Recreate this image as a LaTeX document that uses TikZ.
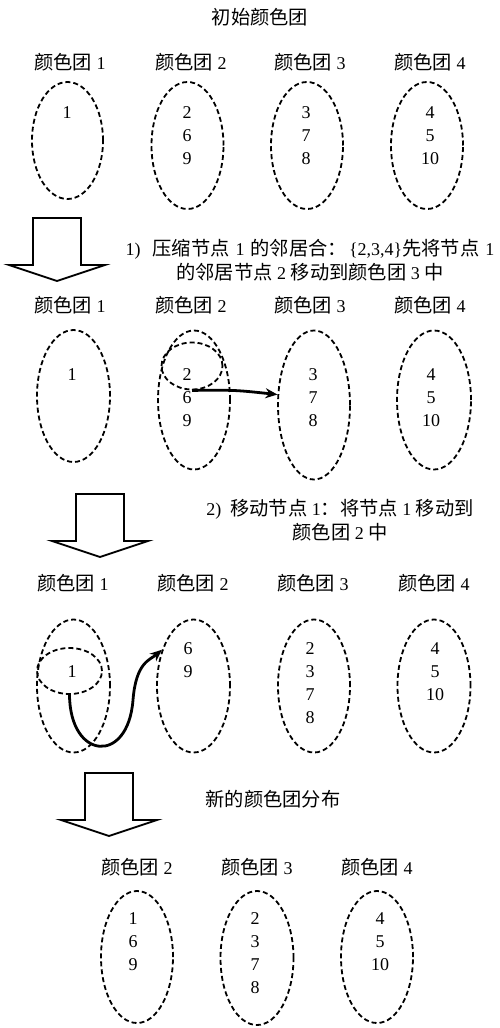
\documentclass[tikz,border=0pt]{standalone}
\usepackage{fontspec}
\setmainfont{Liberation Serif}
\newfontfamily\cjk{Noto Sans CJK SC}[Scale=1.07]
\usetikzlibrary{shapes.geometric,arrows.meta}
\tikzset{
  barrow/.pic={\draw[line width=1.8pt, miter limit=10] (-24,-63) -- (24,-63) -- (24,-16) -- (48,-16) -- (0,0) -- (-48,-16) -- (-24,-16) -- cycle;},
  every node/.style={font=\fontsize{18}{23}\selectfont, inner sep=0pt},
  clu/.style={draw, ellipse, dash pattern=on 5pt off 3pt, line width=1.8pt, minimum width=72pt},
  subclu/.style={draw, ellipse, dash pattern=on 5pt off 3pt, line width=1.8pt},
  num/.style={align=center},
  txt/.style={align=center, font=\fontsize{18}{24}\selectfont},
  conn/.style={line width=2.8pt, -{Stealth[length=12pt,width=10pt]}}
}
\begin{document}
\begin{tikzpicture}[x=1pt,y=-1pt]
\fill[white] (0,0) rectangle (500,1028);
\useasboundingbox (0,0) rectangle (500,1028);

% Row 1
\node (t0) at (260,17) {\cjk 初始颜色团};
\node (l11) at (70,62) {{\cjk 颜色团} 1};
\node (l12) at (191,62) {{\cjk 颜色团} 2};
\node (l13) at (310,62) {{\cjk 颜色团} 3};
\node (l14) at (430,62) {{\cjk 颜色团} 4};
\node[clu, minimum width=71pt, minimum height=117pt] (c11) at (67.5,140.5) {};
\node[clu, minimum height=127pt] (c12) at (187.5,145.5) {};
\node[clu, minimum height=127pt] (c13) at (307,145.5) {};
\node[clu, minimum height=127pt] (c14) at (427,145.5) {};
\node[num] (n11) at (67,113) {1};
\node[num] (n12) at (187,136) {2\\6\\9};
\node[num] (n13) at (306,136) {3\\7\\8};
\node[num] (n14) at (430,136) {4\\5\\10};

% Step 1
\pic at (57,281) {barrow};
\node[txt] (t1) at (310,260) {1)\hspace{12pt}{\cjk 压缩节点}\hspace{6pt}1\hspace{6pt}{\cjk 的邻居合：}\hspace{2pt}\{2,3,4\}{\cjk 先将节点}\hspace{6pt}1\\{\cjk 的邻居节点} 2 {\cjk 移动到颜色团} 3 {\cjk 中}};

% Row 2
\node (l21) at (70,305) {{\cjk 颜色团} 1};
\node (l22) at (191,305) {{\cjk 颜色团} 2};
\node (l23) at (310,305) {{\cjk 颜色团} 3};
\node (l24) at (430,305) {{\cjk 颜色团} 4};
\node[clu, minimum width=73pt, minimum height=132pt] (c21) at (73.5,396) {};
\node[clu, minimum height=139pt] (c22) at (194,400) {};
\node[clu, minimum height=149pt] (c23) at (314,405) {};
\node[clu, minimum width=74pt, minimum height=139pt] (c24) at (434,400) {};
\node[subclu, minimum width=61pt, minimum height=47pt] (s22) at (192,366) {};
\node[num] (n21) at (72,375) {1};
\node[num] (n22) at (187,398) {2\\6\\9};
\node[num] (n23) at (313,398) {3\\7\\8};
\node[num] (n24) at (431,398) {4\\5\\10};
\draw[conn] (s22.south) .. controls (235,390) .. (c23.164);

% Step 2
\pic at (100,557) {barrow};
\node[txt] (t2) at (340,520) {2)\hspace{9pt}{\cjk 移动节点} 1{\cjk ：将节点} 1 {\cjk 移动到}\\{\cjk 颜色团} 2 {\cjk 中}};

% Row 3
\node (l31) at (73,583) {{\cjk 颜色团} 1};
\node (l32) at (193,583) {{\cjk 颜色团} 2};
\node (l33) at (313,583) {{\cjk 颜色团} 3};
\node (l34) at (434,583) {{\cjk 颜色团} 4};
\node[clu, minimum width=73pt, minimum height=133pt] (c31) at (73.5,686) {};
\node[clu, minimum width=73pt, minimum height=133pt] (c32) at (193.5,686) {};
\node[clu, minimum width=72pt, minimum height=133pt] (c33) at (314,686) {};
\node[clu, minimum width=73pt, minimum height=133pt] (c34) at (434,686) {};
\node[subclu, minimum width=65pt, minimum height=46pt] (s31) at (69.5,671) {};
\node[num] (n31) at (72,672) {1};
\node[num] (n32) at (188,660.5) {6\\9};
\node[num] (n33) at (310,683.5) {2\\3\\7\\8};
\node[num] (n34) at (435,672) {4\\5\\10};
\draw[conn] (s31.south) .. controls (70,760) and (128,765) .. (133,700)
  .. controls (136,662) and (150,660) .. (c32.131);

% Step 3
\pic at (109,836) {barrow};
\node[txt] (t3) at (273,799) {\cjk 新的颜色团分布};

% Row 4
\node (l42) at (137,867) {{\cjk 颜色团} 2};
\node (l43) at (257,867) {{\cjk 颜色团} 3};
\node (l44) at (377,867) {{\cjk 颜色团} 4};
\node[clu, minimum height=132pt] (c42) at (137,957) {};
\node[clu, minimum width=73pt, minimum height=134pt] (c43) at (257,958) {};
\node[clu, minimum height=132pt] (c44) at (377,957) {};
\node[num] (n42) at (133,942) {1\\6\\9};
\node[num] (n43) at (255,953.5) {2\\3\\7\\8};
\node[num] (n44) at (380,942) {4\\5\\10};
\end{tikzpicture}
\end{document}
